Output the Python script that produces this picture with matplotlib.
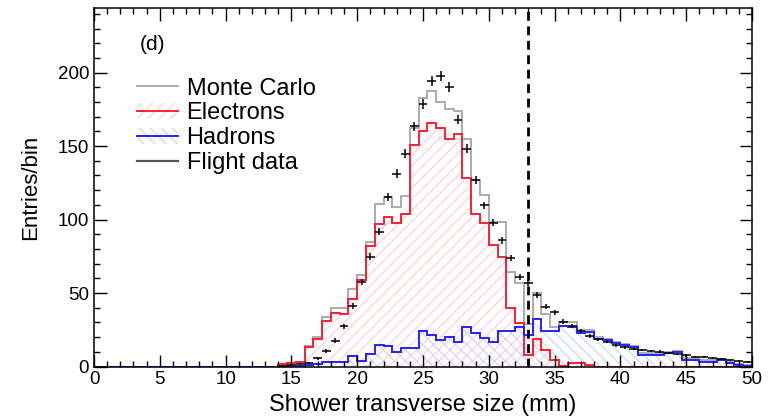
import numpy as np
import matplotlib
matplotlib.use("Agg")
import matplotlib.pyplot as plt
from matplotlib.lines import Line2D
from matplotlib.patches import Patch
from matplotlib.ticker import MultipleLocator

plt.rcParams['font.family'] = ['Liberation Sans', 'DejaVu Sans']
plt.rcParams['hatch.linewidth'] = 0.7

# ---- data (75 bins of 2/3 mm from 0 to 50 mm) ----
x_min, x_max, n_bins = 0.0, 50.0, 75
cut_value = 33.0

electrons = [0]*21 + [1.5, 2.2, 3.0, 13.5, 19.0, 31.0, 36.5, 36.0, 46.0, 59.0,
             82.0, 97.0, 102.0, 98.0, 104.0, 151.0, 160.0, 166.0, 162.0, 155.0,
             158.0, 128.0, 104.0, 97.5, 83.0, 74.5, 40.0, 29.3, 8.0, 18.5,
             11.2, 4.7, 0.3, 2.2, 2.2, 1.2] + [0]*18

hadrons = [0]*22 + [0.3, 0.5, 1.0, 2.0, 3.3, 3.3, 3.3, 7.0, 4.0,
           8.5, 14.6, 13.7, 10.1, 12.3, 12.3, 24.3, 21.4, 18.0, 20.3,
           16.9, 27.0, 22.8, 19.1, 16.9, 24.0, 24.0, 27.0, 21.4, 32.0,
           24.2, 24.2, 27.5, 27.0, 22.5, 23.7, 18.5, 18.0, 16.3, 14.6,
           13.5, 7.8, 7.8, 7.8, 9.4, 10.1, 4.4, 4.4, 3.3, 3.3,
           4.4, 2.2, 1.0, 0.3]

monte_carlo = [0]*21 + [1.5, 2.5, 3.2, 14.0, 20.0, 33.4, 39.5, 39.5, 52.5, 62.0,
               85.0, 110.5, 115.3, 108.5, 115.8, 162.0, 183.0, 187.3, 179.8, 175.0,
               174.2, 154.5, 127.0, 116.5, 98.4, 98.4, 64.0, 56.5, 29.0, 50.1,
               36.0, 27.0, 30.5, 30.5, 25.0, 25.0, 20.0, 19.0, 17.0, 15.5,
               14.0, 9.0, 9.0, 9.0, 10.0, 10.5, 6.0, 5.5, 4.5, 4.5,
               5.0, 3.0, 2.0, 1.0]

flight = [0]*21 + [0.5, 1.0, 1.5, 2.4, 5.6, 10.3, 17.5, 27.3, 41.2, 57.5,
          74.6, 91.8, 115.3, 131.2, 144.8, 163.5, 178.7, 194.6, 197.5, 190.0,
          168.0, 148.2, 126.7, 109.7, 97.9, 85.9, 73.7, 61.0, 56.9, 48.6,
          40.6, 36.8, 30.5, 27.5, 23.9, 20.7, 18.5, 16.9, 14.6, 13.0,
          11.9, 11.2, 10.5, 10.1, 9.4, 8.5, 7.6, 6.7, 6.2, 5.5,
          5.1, 4.4, 3.7, 3.1]

flight_err = [0]*21 + [0.5, 0.6, 0.8, 1.0, 1.2, 1.4, 1.6, 1.8, 2.0, 2.2,
              2.4, 2.6, 2.8, 3.0, 3.0, 3.2, 3.3, 3.4, 3.4, 3.4,
              3.2, 3.0, 2.8, 2.6, 2.5, 2.4, 2.2, 2.0, 2.0, 1.8,
              1.7, 1.6, 1.5, 1.4, 1.3, 1.2, 1.2, 1.1, 1.0, 1.0,
              0.9, 0.9, 0.9, 0.9, 0.8, 0.8, 0.8, 0.7, 0.7, 0.7,
              0.6, 0.6, 0.6, 0.5]

legend_labels = ["Monte Carlo", "Electrons", "Hadrons", "Flight data"]
panel_label = "(d)"
x_label = "Shower transverse size (mm)"
y_label = "Entries/bin"

# ---- drawing ----
edges = np.linspace(x_min, x_max, n_bins + 1)
centers = 0.5 * (edges[:-1] + edges[1:])
half_w = 0.5 * (edges[1] - edges[0])

red = '#ff1e32'
blue = '#2222ff'
gray = '#ababab'
pink = '#ffc4cc'
lblue = '#c4caff'

fig = plt.figure(figsize=(7.73, 4.19), dpi=100)
ax = fig.add_axes([94/773, 1 - 366.5/419, (752-94)/773, (366.5-8)/419])

ax.stairs(electrons, edges, fill=True, facecolor='none', edgecolor=pink,
          hatch='///', linewidth=0)
ax.stairs(hadrons, edges, fill=True, facecolor='none', edgecolor=lblue,
          hatch='\\\\\\', linewidth=0)
ax.stairs(monte_carlo, edges, color=gray, linewidth=1.4)
ax.stairs(electrons, edges, color=red, linewidth=1.4)
ax.stairs(hadrons, edges, color=blue, linewidth=1.4)

fl = np.array(flight, float)
fe = np.array(flight_err, float)
mask = fl > 0
ax.errorbar(centers[mask], fl[mask], xerr=half_w, yerr=fe[mask], fmt='none',
            ecolor='black', elinewidth=1.1, capsize=0)

ax.axvline(cut_value, color='black', linestyle=(0, (3.2, 2.0)), linewidth=2.0)

ax.set_xlim(x_min, x_max)
ax.set_ylim(0, 244)
ax.xaxis.set_major_locator(MultipleLocator(5))
ax.xaxis.set_minor_locator(MultipleLocator(1))
ax.yaxis.set_major_locator(MultipleLocator(50))
ax.yaxis.set_minor_locator(MultipleLocator(10))
ax.tick_params(which='both', direction='in', top=True, right=True,
               labelsize=13.5, width=1.0, colors='black')
ax.tick_params(which='major', length=9)
ax.tick_params(which='minor', length=4.5)
for s in ax.spines.values():
    s.set_linewidth(1.1)

ax.set_xlabel(x_label, fontsize=17, labelpad=4)
ax.set_ylabel(y_label, fontsize=16, labelpad=12)

ax.text(0.070, 0.897, panel_label, transform=ax.transAxes, fontsize=15,
        ha='left', va='center')

handles = [
    Line2D([0], [0], color=gray, lw=1.4),
    (Patch(facecolor='none', edgecolor=pink, hatch='///', lw=0), Line2D([0], [0], color=red, lw=1.4)),
    (Patch(facecolor='none', edgecolor=lblue, hatch='\\\\\\', lw=0), Line2D([0], [0], color=blue, lw=1.4)),
    Line2D([0], [0], color='#555555', lw=1.6),
]
leg = ax.legend(handles, legend_labels, loc='upper left', bbox_to_anchor=(0.0653, 0.806),
                frameon=False, fontsize=17, handlelength=1.75, handletextpad=0.35,
                labelspacing=0.12, borderaxespad=0, borderpad=0)

fig.savefig('out.png', dpi=100)
